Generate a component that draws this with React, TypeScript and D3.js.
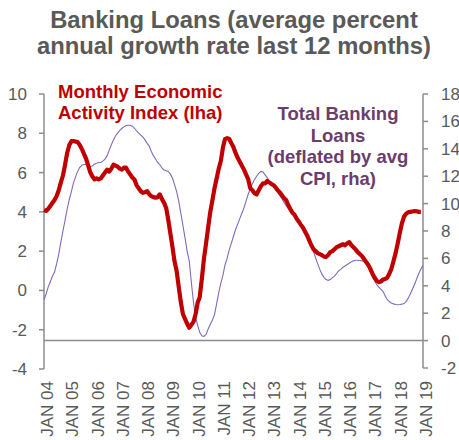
import React from "react";
import * as d3 from "d3";

const title = ["Banking Loans (average percent", "annual growth rate last 12 months)"];
const redLabel = ["Monthly Economic", "Activity Index (lha)"];
const purpleLabel = ["Total Banking", "Loans", "(deflated by avg", "CPI, rha)"];

const startYear = 2004;
const yearTicks = d3.range(2004, 2020);
const leftTicks = [-4, -2, 0, 2, 4, 6, 8, 10];
const rightTicks = [-2, 0, 2, 4, 6, 8, 10, 12, 14, 16, 18];

// Monthly Economic Activity Index (lha), monthly from Jan 2004
const activity = [
  4.1, 4.05, 4.15, 4.3, 4.45, 4.6, 4.8, 5.1, 5.5, 5.85, 6.4, 7.0,
  7.4, 7.6, 7.6, 7.58, 7.55, 7.4, 7.2, 6.95, 6.7, 6.35, 6.0, 5.8,
  5.65, 5.7, 5.65, 5.7, 5.85, 6.0, 6.15, 6.05, 6.2, 6.4, 6.35, 6.3,
  6.2, 6.15, 6.25, 6.25, 6.05, 5.9, 5.75, 5.65, 5.35, 5.2, 5.05, 4.97,
  5.0, 5.05, 4.9, 4.8, 4.75, 4.72, 4.75, 4.89, 4.65, 4.47, 4.2, 3.6,
  2.9, 2.2, 1.5, 1.0, 0.2, -0.6, -1.2, -1.45, -1.7, -1.9, -1.75, -1.6,
  -1.2, -0.6, -0.35, 0.6, 1.6, 2.4, 3.2, 4.0, 4.6, 5.2, 5.7, 6.2,
  6.6, 7.3, 7.7, 7.75, 7.72, 7.5, 7.3, 7.0, 6.75, 6.55, 6.35, 6.15,
  5.9, 5.65, 5.2, 5.1, 4.95, 4.89, 5.1, 5.3, 5.45, 5.45, 5.57, 5.5,
  5.42, 5.35, 5.25, 5.1, 5.0, 4.85, 4.7, 4.6, 4.35, 4.15, 3.95, 3.85,
  3.65, 3.5, 3.35, 3.2, 3.0, 2.8, 2.55, 2.3, 2.1, 2.0, 1.9, 1.85,
  1.8, 1.72, 1.7, 1.8, 1.95, 2.0, 2.1, 2.2, 2.25, 2.3, 2.35, 2.3,
  2.4, 2.46, 2.3, 2.2, 2.09, 1.95, 1.85, 1.75, 1.6, 1.45, 1.3, 1.1,
  0.85, 0.65, 0.5, 0.42, 0.45, 0.55, 0.58, 0.65, 0.85, 1.1, 1.5, 1.9,
  2.4, 2.95, 3.4, 3.75, 3.9, 3.98, 4.0, 4.02, 4.04, 4.03, 4.0, 4.0,
];

// Total Banking Loans deflated (rha), monthly from Jan 2004
const loans = [
  3.0, 3.4, 3.9, 4.3, 4.7, 5.0, 5.6, 6.3, 7.2, 8.0, 8.8, 9.6,
  10.3, 10.9, 11.5, 11.95, 12.35, 12.65, 12.8, 12.85, 12.85, 12.8, 12.72, 12.75,
  12.9, 12.95, 13.0, 13.0, 13.1, 13.25, 13.5, 13.9, 14.3, 14.65, 14.95, 15.15,
  15.35, 15.5, 15.6, 15.7, 15.72, 15.72, 15.65, 15.5, 15.3, 15.15, 15.0, 14.85,
  14.65, 14.4, 14.2, 13.8, 13.5, 13.25, 13.0, 12.85, 12.6, 12.45, 12.4, 12.35,
  12.15, 11.85, 11.4, 10.9, 10.2, 9.3, 8.4, 7.5, 6.5, 5.8, 4.2, 2.8,
  1.7, 1.1, 0.6, 0.35, 0.3, 0.45, 0.85, 1.2, 1.5, 1.9, 2.7, 3.5,
  4.2, 4.8, 5.5, 6.0, 6.6, 7.1, 7.6, 8.1, 8.5, 8.9, 9.3, 9.7,
  10.2, 10.7, 11.1, 11.45, 11.75, 12.0, 12.2, 12.35, 12.3, 12.1, 11.9, 11.65,
  11.45, 11.25, 11.05, 10.8, 10.6, 10.35, 10.1, 9.85, 9.65, 9.45, 9.3, 9.2,
  9.0, 8.75, 8.5, 8.25, 7.9, 7.55, 7.25, 6.9, 6.5, 6.05, 5.6, 5.2,
  4.85, 4.6, 4.45, 4.4, 4.45, 4.6, 4.7, 4.9, 5.1, 5.2, 5.35, 5.45,
  5.55, 5.65, 5.75, 5.82, 5.86, 5.86, 5.85, 5.82, 5.79, 5.65, 5.3, 5.0,
  4.65, 4.35, 4.1, 3.9, 3.75, 3.6, 3.3, 3.0, 2.85, 2.75, 2.68, 2.63,
  2.62, 2.63, 2.66, 2.7, 2.85, 3.1, 3.4, 3.75, 4.1, 4.5, 4.9, 5.2,
  5.5,
];

const W = 459;
const H = 440;
const FONT = "'Liberation Sans', Arial, sans-serif";
const GREY = "#595959";
const AXIS = "#8c8c8c";
const RED = "#c00000";
const PURPLE_LINE = "#7f6bb8";
const PURPLE_TEXT = "#6a3d6e";

export default function App() {
  const x = d3
    .scaleTime()
    .domain([new Date(2004, 0, 1), new Date(2019, 0, 1)])
    .range([44, 423]);
  const yL = d3.scaleLinear().domain([-4, 10]).range([369, 94]);
  const yR = d3.scaleLinear().domain([-2, 18]).range([368, 94]);

  const date = (i: number) => new Date(startYear, i, 1);
  const lineL = d3
    .line<number>()
    .x((_, i) => x(date(i)))
    .y((d) => yL(d))
    .curve(d3.curveLinear);
  const lineR = d3
    .line<number>()
    .x((_, i) => x(date(i)))
    .y((d) => yR(d))
    .curve(d3.curveLinear);

  return (
    <svg
      width={W}
      height={H}
      style={{ position: "absolute", left: 0, top: 0, background: "#fff" }}
      fontFamily={FONT}
    >
      {title.map((t, i) => (
        <text
          key={i}
          x={234}
          y={28 + i * 26}
          textAnchor="middle"
          fontSize={23.8}
          fontWeight="bold"
          fill={GREY}
        >
          {t}
        </text>
      ))}

      {/* zero line on right axis */}
      <line x1={x.range()[0]} x2={x.range()[1]} y1={yR(0)} y2={yR(0)} stroke={AXIS} strokeWidth={1.5} />

      {/* left axis */}
      <line x1={x.range()[0]} x2={x.range()[0]} y1={yL(10)} y2={yL(-4)} stroke={AXIS} strokeWidth={1.5} />
      {leftTicks.map((t) => (
        <g key={t}>
          <line x1={x.range()[0] - 5} x2={x.range()[0]} y1={yL(t)} y2={yL(t)} stroke={AXIS} strokeWidth={1.5} />
          <text x={27} y={yL(t)} dy="0.35em" textAnchor="end" fontSize={17} fill={GREY}>
            {t}
          </text>
        </g>
      ))}

      {/* right axis */}
      <line x1={x.range()[1]} x2={x.range()[1]} y1={yR(18)} y2={yR(-2)} stroke={AXIS} strokeWidth={1.5} />
      {rightTicks.map((t) => (
        <g key={t}>
          <line x1={x.range()[1]} x2={x.range()[1] + 5} y1={yR(t)} y2={yR(t)} stroke={AXIS} strokeWidth={1.5} />
          <text x={441} y={yR(t)} dy="0.35em" textAnchor="start" fontSize={17} fill={GREY}>
            {t}
          </text>
        </g>
      ))}

      {/* x labels */}
      {yearTicks.map((yr) => (
        <text
          key={yr}
          transform={`translate(${x(new Date(yr, 0, 1)) + 3},381) rotate(-90)`}
          dy="0.35em"
          textAnchor="end"
          fontSize={17}
          fill={GREY}
        >
          {`JAN ${String(yr % 100).padStart(2, "0")}`}
        </text>
      ))}

      <path d={lineR(loans) || ""} fill="none" stroke={PURPLE_LINE} strokeWidth={1.1} />
      <path d={lineL(activity) || ""} fill="none" stroke={RED} strokeWidth={4.2} strokeLinejoin="round" />

      {redLabel.map((t, i) => (
        <text key={i} x={58} y={98 + i * 21} fontSize={18.5} fontWeight="bold" fill={RED}>
          {t}
        </text>
      ))}
      {purpleLabel.map((t, i) => (
        <text
          key={i}
          x={338}
          y={120 + i * 21.5}
          textAnchor="middle"
          fontSize={18.5}
          fontWeight="bold"
          fill={PURPLE_TEXT}
        >
          {t}
        </text>
      ))}
    </svg>
  );
}
